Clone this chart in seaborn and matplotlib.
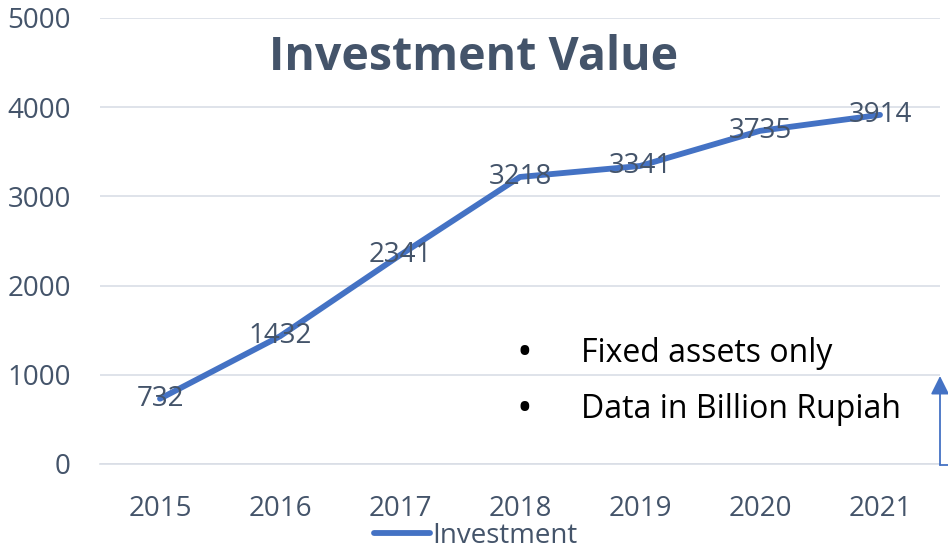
import matplotlib
matplotlib.use("Agg")
import matplotlib.pyplot as plt
import seaborn as sns
import pandas as pd

# chart data
years = ["2015", "2016", "2017", "2018", "2019", "2020", "2021"]
investment = [732, 1432, 2341, 3218, 3341, 3735, 3914]
notes = ["Fixed assets only", "Data in Billion Rupiah"]

SLATE = "#44546A"
BLUE = "#4472C4"
GRID = "#D9DEE6"

df = pd.DataFrame({"Year": years, "Investment": investment})

sns.set_style("white")
plt.rcParams["font.family"] = ["Open Sans", "DejaVu Sans"]

fig = plt.figure(figsize=(9.48, 5.52), dpi=100)
ax = fig.add_axes([100 / 948, 88 / 552, 840 / 948, 446 / 552])

sns.lineplot(data=df, x="Year", y="Investment", color=BLUE, linewidth=4.2,
             sort=False, label="Investment", ax=ax, solid_capstyle="round")

# data labels centred on the points
for i, v in enumerate(investment):
    ax.text(i, v, str(v), ha="center", va="center", fontsize=20, color=SLATE)

ax.set_xlim(-0.5, len(years) - 0.5)
ax.set_ylim(0, 5000)
ax.set_yticks(range(0, 5001, 1000))
ax.grid(axis="y", color=GRID, linewidth=1.2)
ax.set_axisbelow(True)
for s in ["top", "right", "left"]:
    ax.spines[s].set_visible(False)
ax.spines["bottom"].set_color(GRID)
ax.spines["bottom"].set_linewidth(1.2)

# x ticks between categories
ax.set_xticks([i + 0.5 for i in range(-1, len(years))], minor=True)
ax.tick_params(axis="x", which="minor", length=7, color=GRID, width=1.2)
ax.tick_params(axis="x", which="major", length=0, labelsize=20,
               labelcolor=SLATE, pad=22)
ax.tick_params(axis="y", length=0, labelsize=20, labelcolor=SLATE, pad=21)
ax.set_xlabel("")
ax.set_ylabel("")

fig.text(474 / 948, 1 - 57 / 552, "Investment Value", ha="center", va="center",
         fontsize=33.5, fontweight="bold", color=SLATE)

# notes box
for k, note in enumerate(notes):
    y = 1 - (354 + 56 * k) / 552
    fig.text(524 / 948, y, "\u2022", ha="center", va="center", fontsize=30,
             color="black")
    fig.text(581 / 948, y, note, ha="left", va="center", fontsize=23,
             color="black")

# arrow on right edge
fig.add_artist(plt.Line2D([940 / 948, 948 / 948], [1 - 465 / 552, 1 - 465 / 552],
                          color=BLUE, linewidth=1.3))
ax.annotate("", xy=(940 / 948, 1 - 376 / 552), xytext=(940 / 948, 1 - 465 / 552),
            xycoords="figure fraction", textcoords="figure fraction",
            arrowprops=dict(arrowstyle="-|>", color=BLUE, lw=1.3,
                            mutation_scale=28, shrinkA=0, shrinkB=0))

leg = ax.legend(loc="center", bbox_to_anchor=(476 / 948, 1 - 536 / 552),
                bbox_transform=fig.transFigure, frameon=False, fontsize=20,
                handlelength=2.0, handletextpad=0.1)
for t in leg.get_texts():
    t.set_color(SLATE)

fig.savefig("out.png", dpi=100)
